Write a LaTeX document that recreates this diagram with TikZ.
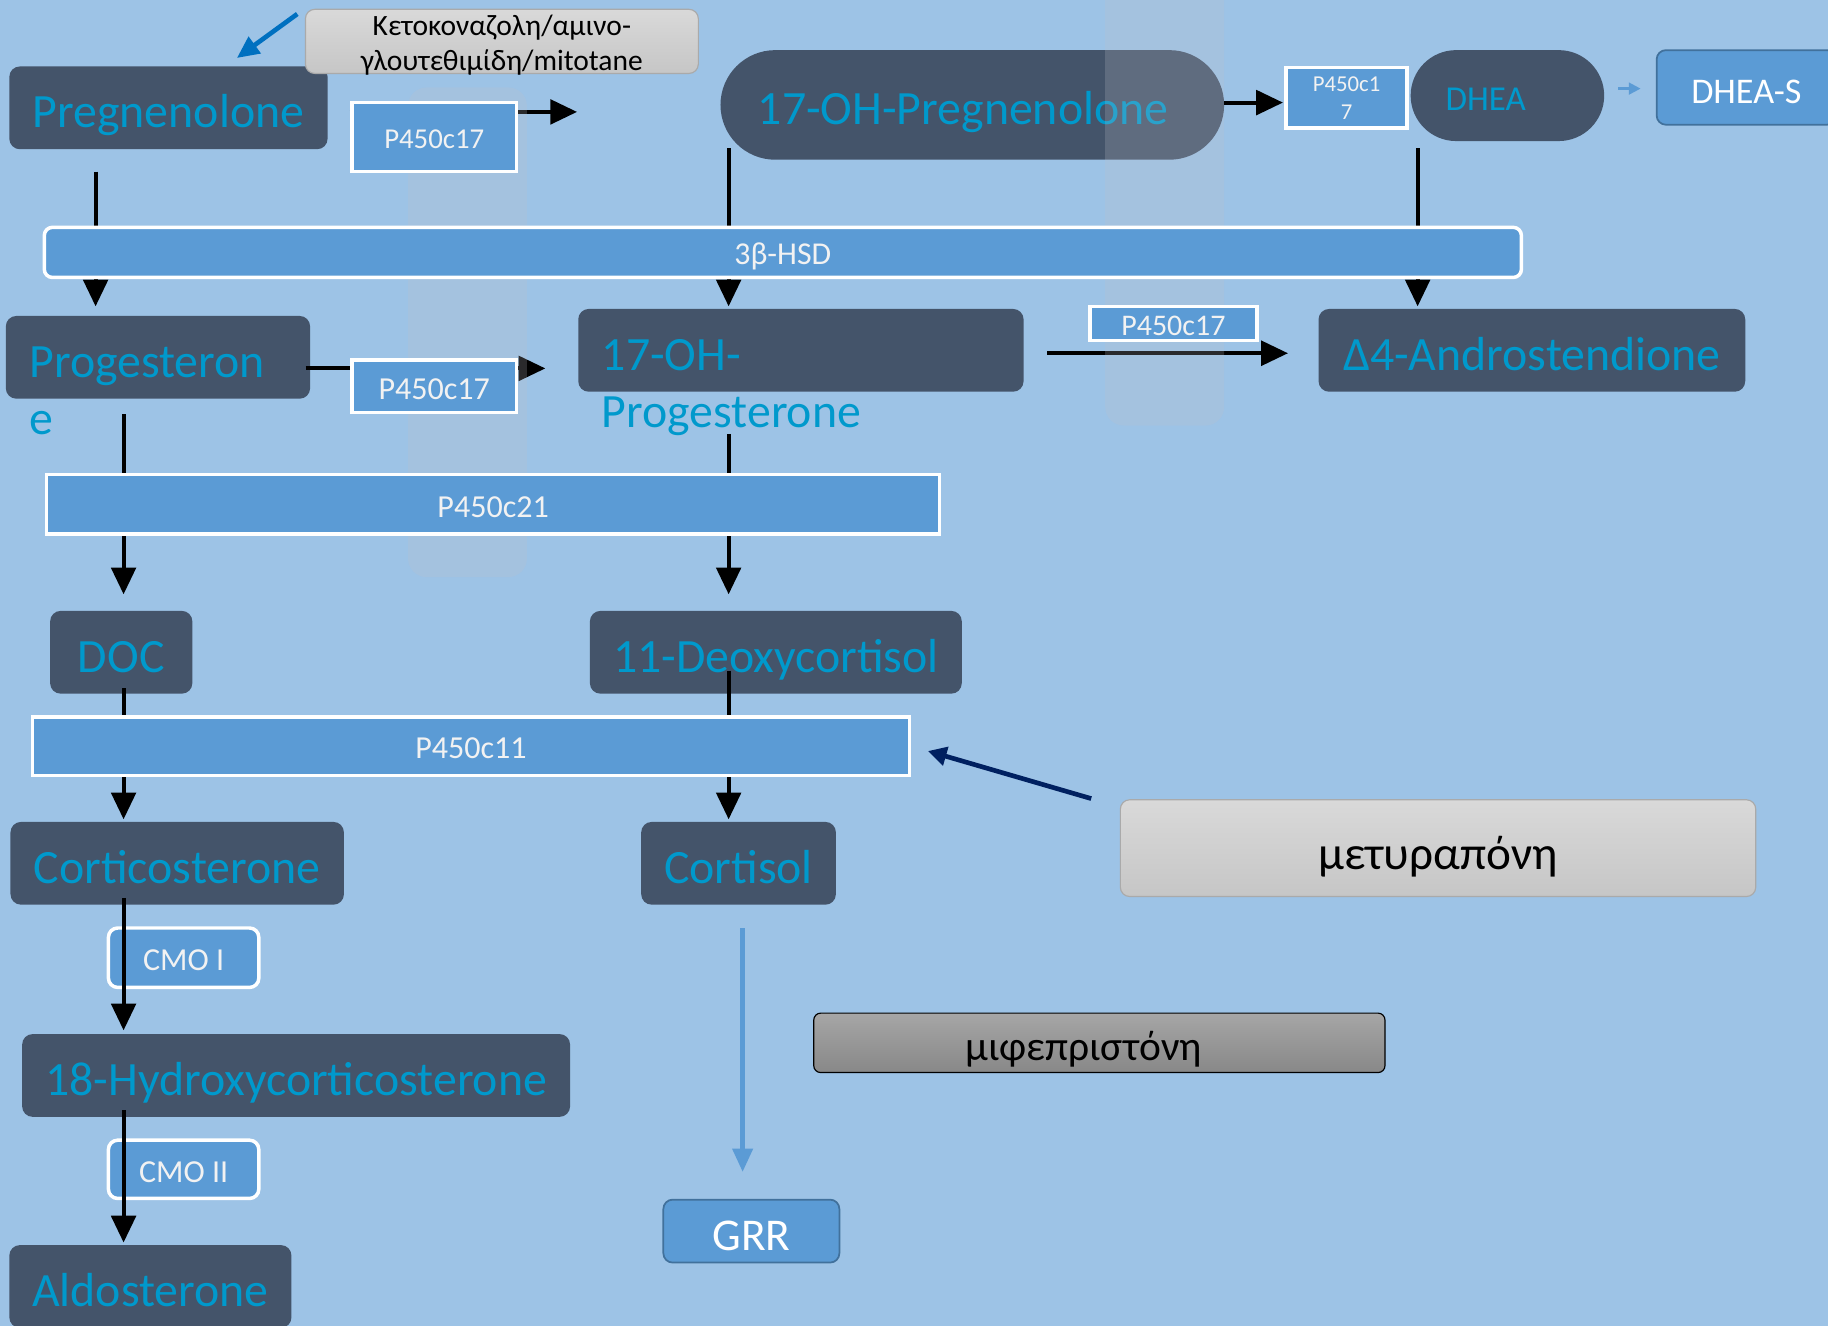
\documentclass[tikz,border=0pt]{standalone}
\usepackage{fontspec}
\setmainfont{Carlito}
\usetikzlibrary{arrows.meta}
\definecolor{bg}{RGB}{157,195,230}
\definecolor{dark}{RGB}{68,84,106}
\definecolor{subtxt}{RGB}{0,153,204}
\definecolor{enzblue}{RGB}{91,155,213}
\definecolor{enztxt}{RGB}{242,242,242}
\definecolor{grrline}{RGB}{65,113,156}
\definecolor{navy}{RGB}{0,32,96}
\definecolor{kblue}{RGB}{0,112,192}
\definecolor{druga}{RGB}{217,217,217}
\definecolor{drugb}{RGB}{198,198,198}
\definecolor{drugline}{RGB}{170,170,170}
\definecolor{mifea}{RGB}{166,166,166}
\definecolor{mifeb}{RGB}{136,136,136}
\definecolor{fainty}{RGB}{192,194,202}
\newcommand\fsz[2]{\fontsize{#1}{#2}\selectfont}
\begin{document}
\begin{tikzpicture}[x=1pt,y=-1pt,
  sub/.style={fill=dark, rounded corners=9pt, text=subtxt, font=\fsz{41}{49}, inner sep=0pt, text height=34pt, text depth=0pt},
  subtext/.style={text=subtxt, font=\fsz{41}{49}, inner sep=0pt, align=left},
  pill/.style={sub, rounded corners=#1},
  enzbase/.style={fill=enzblue, draw=white, line width=3pt, text=enztxt, inner sep=0pt},
  enz/.style={enzbase, font=\fsz{27.5}{33}, text height=22pt, text depth=0pt},
  enzr/.style={enz, rounded corners=8pt},
  solid box/.style={fill=enzblue, draw=grrline, line width=1.5pt, rounded corners=8pt, text=white, inner sep=0pt},
  drug/.style={rounded corners=8pt, draw=drugline, line width=1pt, top color=druga, bottom color=drugb, text=black, inner sep=0pt},
  mifebox/.style={rounded corners=6pt, draw=black, line width=1pt, top color=mifea, bottom color=mifeb, text=black, inner sep=0pt},
  arr/.style={line width=3.5pt, -{Triangle[width=21pt,length=23pt]}},
  faint/.style={fill=fainty, fill opacity=0.22, rounded corners=16pt},
]
\clip (0,0) rectangle (1568,1137);
\fill[bg] (0,0) rectangle (1568,1137);

% helper columns and rows
\coordinate (cA) at (82,0);
\coordinate (cB) at (625,0);
\coordinate (cC) at (1216,0);
\coordinate (cD) at (106,0);
\coordinate (cE) at (637,0);
\coordinate (rA) at (0,96);
\coordinate (rB) at (0,316);
\coordinate (rC) at (0,303);
\coordinate (rD) at (0,88);
\coordinate (rE) at (0,76);

% substrate boxes
\node[sub, minimum width=273pt, minimum height=71pt] (preg) at (144.5,92.5) {Pregnenolone};
\node[pill=47pt, minimum width=432pt, minimum height=94pt, text width=368pt, align=left] (ohpreg) at (834,90) {17-OH-Pregnenolone};
\node[pill=39pt, minimum width=166pt, minimum height=78pt, text width=106pt, align=left, font=\fsz{30}{36}, text height=25pt] (dhea) at (1293,82) {DHEA};
\node[solid box, minimum width=154pt, minimum height=64pt, font=\fsz{31}{37}, text height=27pt, text depth=0pt] (dheas) at (1498,75) {DHEA-S};

\node[sub, minimum width=261pt, minimum height=71pt] (prog) at (135.5,306.5) {};
\node[subtext, anchor=north west] (progtxt) at (25,297) {Progesteron\\e};
\node[sub, minimum width=382pt, minimum height=71pt] (ohprog) at (687,300.5) {};
\node[subtext, anchor=north west] (ohprogtxt) at (516,291) {17-OH-\\Progesterone};
\node[sub, minimum width=366pt, minimum height=71pt] (andro) at (1314,300.5) {Δ4-Androstendione};

\node[sub, minimum width=122pt, minimum height=71pt] (doc) at (104,559.5) {DOC};
\node[sub, minimum width=319pt, minimum height=71pt] (deoxy) at (665.5,559.5) {11-Deoxycortisol};
\node[sub, minimum width=286pt, minimum height=71pt] (cortico) at (152,740.5) {Corticosterone};
\node[sub, minimum width=167pt, minimum height=71pt] (cortisol) at (633.5,740.5) {Cortisol};
\node[sub, minimum width=470pt, minimum height=71pt] (hydroxy) at (254,922.5) {18-Hydroxycorticosterone};
\node[sub, minimum width=242pt, minimum height=71pt] (aldo) at (129,1103.5) {Aldosterone};

% drug boxes
\node[drug, minimum width=337pt, minimum height=55pt,
  label={[align=center, font=\fsz{25.3}{30}, text=black, inner sep=0pt, yshift=-3pt]center:Κετοκοναζολη/αμινο-\\γλουτεθιμίδη/mitotane}] (keto) at (430.5,35.5) {};
\node[drug, minimum width=545pt, minimum height=83pt, font=\fsz{40.5}{48}, text height=36pt, text depth=0pt] (metyr) at (1233.5,727.5) {μετυραπόνη};
\node[mifebox, minimum width=490pt, minimum height=51pt, font=\fsz{35.6}{43}, text height=31pt, text depth=0pt, text width=230pt, align=left] (mife) at (943,894.5) {μιφεπριστόνη};
\node[solid box, minimum width=151pt, minimum height=54pt, font=\fsz{39}{46}, text height=34pt, text depth=0pt] (grr) at (644.5,1056) {GRR};

% CMO boxes (under the arrows)
\node[enzr, minimum width=129pt, minimum height=51pt] (cmoa) at (157.5,821.5) {CMO I};
\node[enzr, minimum width=129pt, minimum height=50pt] (cmob) at (157.5,1003) {CMO II};

% pathway arrows
\coordinate (e1) at (495,96);
\draw[arr, shorten <=19pt] (preg.east |- rA) -- (e1);
\draw[arr, shorten <=19pt, shorten >=8pt] (preg.south -| cA) -- (prog.north -| cA);
\draw[arr, shorten <=-10pt, shorten >=2pt] (ohpreg.south -| cB) -- (ohprog.north -| cB);
\draw[arr, shorten <=6pt, shorten >=2pt] (dhea.south -| cC) -- (andro.north -| cC);
\draw[arr, shorten <=-4pt, shorten >=28pt] (prog.east |- rB) -- (ohprog.west |- rB);
\draw[arr, shorten <=20pt, shorten >=26pt] (ohprog.east |- rC) -- (andro.west |- rC);
\draw[arr, shorten <=13pt, shorten >=14pt] (prog.south -| cD) -- (doc.north -| cD);
\draw[arr, shorten <=36pt, shorten >=14pt] (ohprog.south -| cB) -- (deoxy.north -| cB);
\draw[arr, shorten <=-5pt, shorten >=2pt] (doc.south -| cD) -- (cortico.north -| cD);
\draw[arr, shorten <=-20pt, shorten >=2pt] (deoxy.south -| cB) -- (cortisol.north -| cB);
\draw[arr, shorten <=-6pt, shorten >=3pt] (cortico.south -| cD) -- (hydroxy.north -| cD);
\draw[arr, shorten <=-6pt, shorten >=2pt] (hydroxy.south -| cD) -- (aldo.north -| cD);

% faint translucent bars
\fill[faint] (350,75) rectangle (452,495);
\fill[faint] (948,-20) rectangle (1050,365);

% enzyme boxes
\node[enzbase, minimum width=141pt, minimum height=59pt, font=\fsz{24.7}{30}, text height=19pt, text depth=0pt] (p17a) at (372.5,117.5) {P450c17};
\node[enzbase, minimum width=104pt, minimum height=52pt, align=center, font=\fsz{19.5}{24}] (p17b) at (1155,84) {P450c1\\7};
\node[enz, rounded corners=7pt, minimum width=1267pt, minimum height=43pt, font=\fsz{27.3}{32}, text height=21pt] (hsd) at (671.5,216.5) {3β-HSD};
\node[enz, minimum width=141pt, minimum height=45pt] (p17c) at (372.5,331.5) {P450c17};
\node[enz, minimum width=143pt, minimum height=29pt, font=\fsz{25.7}{31}, text height=21pt] (p17d) at (1006.5,277.5) {P450c17};
\node[enz, minimum width=766pt, minimum height=51pt] (c21) at (423,432.5) {P450c21};
\node[enz, minimum width=752pt, minimum height=50pt] (c11) at (404,640) {P450c11};

% remaining arrows
\draw[arr, shorten >=1pt] (ohpreg.east |- rD) -- (p17b.west |- rD);
\draw[line width=2pt, draw=enzblue, -{Triangle[width=10pt,length=10pt]}, shorten <=12pt, shorten >=13pt] (dhea.east |- rE) -- (dheas.west |- rE);
\draw[line width=4pt, draw=enzblue, -{Triangle[width=17pt,length=20pt]}, shorten <=20pt, shorten >=23pt] (cortisol.south -| cE) -- (grr.north -| cE);
\coordinate (m1) at (936,685);
\draw[line width=4pt, draw=navy, -{Triangle[width=16pt,length=16pt]}, shorten >=15pt] (m1) -- (c11.east);
\coordinate (k1) at (255,12);
\draw[line width=4pt, draw=kblue, -{Triangle[width=17pt,length=19pt]}, shorten >=12pt] (k1) -- (preg);
\end{tikzpicture}
\end{document}
